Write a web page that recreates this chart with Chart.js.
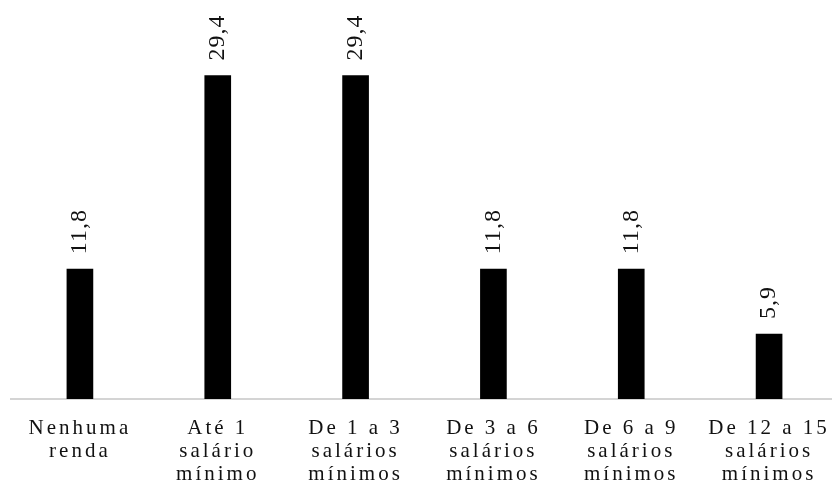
<!DOCTYPE html>
<html>
<head>
<meta charset="utf-8">
<script src="https://cdn.jsdelivr.net/npm/chart.js@4"></script>
<style>
  html, body { margin: 0; padding: 0; background: #fff; overflow: hidden; }
  #wrap { width: 842px; height: 484px; }
</style>
</head>
<body>
<div id="wrap"><canvas id="graph" width="842" height="484"></canvas></div>
<script>
// Income bands (multi-line category labels)
const categories = [
  ['Nenhuma', 'renda'],
  ['Até 1', 'salário', 'mínimo'],
  ['De 1 a 3', 'salários', 'mínimos'],
  ['De 3 a 6', 'salários', 'mínimos'],
  ['De 6 a 9', 'salários', 'mínimos'],
  ['De 12 a 15', 'salários', 'mínimos'],
]

// Percent of respondents per band
const percentages = [11.8, 29.4, 29.4, 11.8, 11.8, 5.9]

const FONT = "'Liberation Serif', 'Times New Roman', serif"

/**
 * Spaced-out category text, like the original figure.
 */
const letterSpacingPlugin = {
  id: 'letterSpacing',
  beforeDraw(chart) {
    chart.ctx.letterSpacing = '3px'
  },
  beforeDatasetsDraw(chart) {
    chart.ctx.letterSpacing = '0px'
  },
}

/**
 * Rotated value labels above each bar, comma decimal.
 */
const valueLabels = {
  id: 'valueLabels',
  afterDatasetsDraw(chart) {
    const ctx = chart.ctx
    const meta = chart.getDatasetMeta(0)
    meta.data.forEach((bar, i) => {
      const text = percentages[i].toFixed(1).replace('.', ',')
      ctx.save()
      ctx.letterSpacing = '1px'
      ctx.font = '24px ' + FONT
      ctx.fillStyle = '#111'
      ctx.translate(bar.x, bar.y - 15)
      ctx.rotate(-Math.PI / 2)
      ctx.textAlign = 'left'
      ctx.textBaseline = 'middle'
      ctx.fillText(text, 0, 0)
      ctx.restore()
    })
  },
}

const ctx = document.getElementById('graph').getContext('2d')

new Chart(ctx, {
  type: 'bar',
  data: {
    labels: categories,
    datasets: [
      {
        data: percentages,
        backgroundColor: '#000',
        barThickness: 26,
      },
    ],
  },
  options: {
    responsive: false,
    animation: false,
    layout: { padding: { left: 11, right: 4, top: 14, bottom: 0 } },
    plugins: {
      legend: { display: false },
      tooltip: { enabled: false },
    },
    scales: {
      x: {
        grid: { display: false, drawTicks: false },
        border: { display: true, color: '#d4d4d4', width: 2 },
        ticks: {
          color: '#111',
          padding: 18,
          maxRotation: 0,
          minRotation: 0,
          autoSkip: false,
          font: { family: FONT, size: 21, lineHeight: 23 / 21 },
        },
        afterFit(scale) {
          scale.height = 85
        },
      },
      y: {
        display: false,
        min: 0,
        max: 35,
      },
    },
  },
  plugins: [letterSpacingPlugin, valueLabels],
})
</script>
</body>
</html>
